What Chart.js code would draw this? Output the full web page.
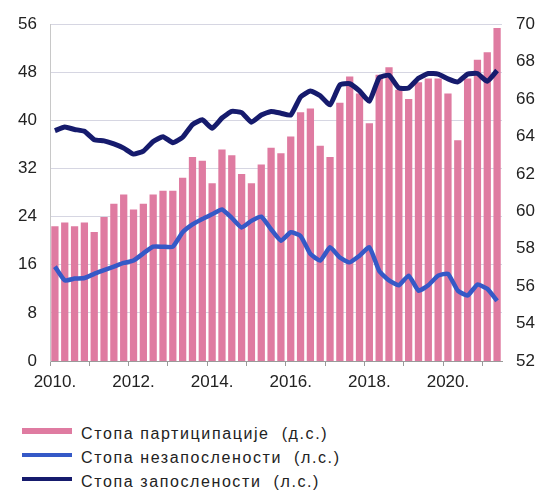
<!DOCTYPE html>
<html>
<head>
<meta charset="utf-8">
<script src="https://cdn.jsdelivr.net/npm/chart.js@4"></script>
<style>
  html, body { margin: 0; padding: 0; background: #fff; }
  #wrap { width: 541px; height: 419px; }
  #legend { margin: 3px 0 0 22px; font: 16px 'Liberation Sans', Arial, sans-serif; letter-spacing: 1.6px; color: #222; }
  #legend .row { display: flex; align-items: center; height: 24px; white-space: pre; }
  #legend .swatch { display: inline-block; width: 50px; margin-right: 9px; position: relative; top: -3px; }
</style>
</head>
<body>
<div id="wrap"><canvas id="chart"></canvas></div>
<div id="legend"></div>
<script>
const categories = [
  'Q1 2010', 'Q2 2010', 'Q3 2010', 'Q4 2010', 'Q1 2011', 'Q2 2011', 'Q3 2011', 'Q4 2011',
  'Q1 2012', 'Q2 2012', 'Q3 2012', 'Q4 2012', 'Q1 2013', 'Q2 2013', 'Q3 2013', 'Q4 2013',
  'Q1 2014', 'Q2 2014', 'Q3 2014', 'Q4 2014', 'Q1 2015', 'Q2 2015', 'Q3 2015', 'Q4 2015',
  'Q1 2016', 'Q2 2016', 'Q3 2016', 'Q4 2016', 'Q1 2017', 'Q2 2017', 'Q3 2017', 'Q4 2017',
  'Q1 2018', 'Q2 2018', 'Q3 2018', 'Q4 2018', 'Q1 2019', 'Q2 2019', 'Q3 2019', 'Q4 2019',
  'Q1 2020', 'Q2 2020', 'Q3 2020', 'Q4 2020', 'Q1 2021', 'Q2 2021'
];

// стопа партиципације, десна скала
const participation = [
  59.2, 59.4, 59.2, 59.4, 58.9, 59.7, 60.4, 60.9, 60.1, 60.4,
  60.9, 61.1, 61.1, 61.8, 62.9, 62.7, 61.5, 63.3, 63.0, 62.0,
  61.5, 62.5, 63.4, 63.1, 64.0, 65.3, 65.5, 63.5, 62.9, 65.8,
  67.2, 66.3, 64.7, 67.3, 67.7, 66.5, 66.0, 66.9, 67.1, 67.1,
  66.3, 63.8, 67.1, 68.1, 68.5, 69.8
];

// стопа незапослености, лева скала
const unemployment = [
  15.7, 13.4, 13.7, 13.8, 14.5, 15.1, 15.7, 16.3, 16.7, 17.9,
  19.0, 19.0, 19.0, 21.4, 22.7, 23.6, 24.4, 25.2, 23.8, 22.2,
  23.3, 24.0, 21.9, 20.0, 21.4, 20.8, 17.8, 16.7, 18.9, 17.2,
  16.4, 17.5, 18.9, 15.0, 13.4, 12.6, 14.2, 11.7, 12.6, 14.2,
  14.5, 11.7, 10.9, 12.7, 12.0, 10.0
];

// стопа запослености, лева скала
const employment = [
  38.3, 38.9, 38.5, 38.2, 36.8, 36.6, 36.1, 35.4, 34.4, 34.9,
  36.5, 37.3, 36.3, 37.2, 39.3, 40.1, 38.7, 40.4, 41.5, 41.3,
  39.7, 40.9, 41.5, 41.2, 40.9, 43.9, 44.9, 44.1, 42.6, 45.9,
  46.1, 44.9, 43.2, 47.1, 47.5, 45.4, 45.4, 47.0, 47.8, 47.7,
  46.9, 46.4, 47.7, 47.8, 46.5, 48.3
];

const xTickYears = ['2010', '2012', '2014', '2016', '2018', '2020'];
const leftTicks = { min: 0, max: 56, step: 8 };
const rightTicks = { min: 52, max: 70, step: 2 };

const pink = '#df7ba1';
const blue = '#3559c7';
const navy = '#161b6d';
const font = 'Liberation Sans, Arial, sans-serif';

// legend as html, one row per dataset
const htmlLegend = {
  id: 'htmlLegend',
  afterUpdate(chart) {
    const box = document.getElementById('legend');
    box.innerHTML = '';
    chart.data.datasets.forEach(function(ds) {
      const row = document.createElement('div');
      row.className = 'row';
      const sw = document.createElement('span');
      sw.className = 'swatch';
      sw.style.height = ds.legendWidth + 'px';
      sw.style.background = ds.type === 'bar' ? ds.backgroundColor : ds.borderColor;
      row.appendChild(sw);
      row.appendChild(document.createTextNode(ds.label));
      box.appendChild(row);
    });
  }
};

new Chart(document.getElementById('chart'), {
  data: {
    labels: categories,
    datasets: [
      {
        type: 'bar',
        label: 'Стопа партиципације  (д.с.)',
        data: participation,
        yAxisID: 'y1',
        backgroundColor: pink,
        categoryPercentage: 1,
        barPercentage: 0.74,
        order: 3,
        legendWidth: 6
      },
      {
        type: 'line',
        label: 'Стопа незапослености  (л.с.)',
        data: unemployment,
        yAxisID: 'y',
        borderColor: blue,
        borderWidth: 4.5,
        pointRadius: 0,
        tension: 0.15,
        borderJoinStyle: 'round',
        order: 2,
        legendWidth: 4
      },
      {
        type: 'line',
        label: 'Стопа запослености  (л.с.)',
        data: employment,
        yAxisID: 'y',
        borderColor: navy,
        borderWidth: 5,
        pointRadius: 0,
        tension: 0.15,
        borderJoinStyle: 'round',
        order: 1,
        legendWidth: 4
      }
    ]
  },
  plugins: [htmlLegend],
  options: {
    responsive: true,
    maintainAspectRatio: false,
    animation: false,
    layout: { padding: { top: 11, left: 14, right: 0, bottom: 0 } },
    plugins: {
      tooltip: { enabled: false },
      legend: { display: false }
    },
    scales: {
      x: {
        grid: {
          offset: true,
          drawOnChartArea: false,
          tickLength: 5,
          color: function(ctx) { return ctx.index % 4 === 0 ? '#9a9a9a' : 'transparent'; }
        },
        border: { color: '#9a9a9a' },
        ticks: {
          autoSkip: false,
          maxRotation: 0,
          padding: 6,
          color: '#222',
          font: { family: font, size: 17 },
          callback: function(v, i) {
            const parts = categories[i].split(' ');
            return parts[0] === 'Q1' && xTickYears.includes(parts[1]) ? parts[1] + '.' : '';
          }
        },
        afterFit: function(s) { s.height = 58; }
      },
      y: {
        position: 'left',
        min: leftTicks.min,
        max: leftTicks.max,
        grid: { color: '#d6d6e2', drawTicks: false },
        border: { color: '#c8c8c8' },
        ticks: {
          stepSize: leftTicks.step,
          padding: 13,
          color: '#222',
          font: { family: font, size: 17 }
        },
        afterFit: function(s) { s.width = 36; }
      },
      y1: {
        position: 'right',
        min: rightTicks.min,
        max: rightTicks.max,
        grid: { display: false, drawTicks: false },
        border: { display: false },
        ticks: {
          stepSize: rightTicks.step,
          padding: 14,
          color: '#222',
          font: { family: font, size: 17 }
        },
        afterFit: function(s) { s.width = 39; }
      }
    }
  }
});
</script>
</body>
</html>
